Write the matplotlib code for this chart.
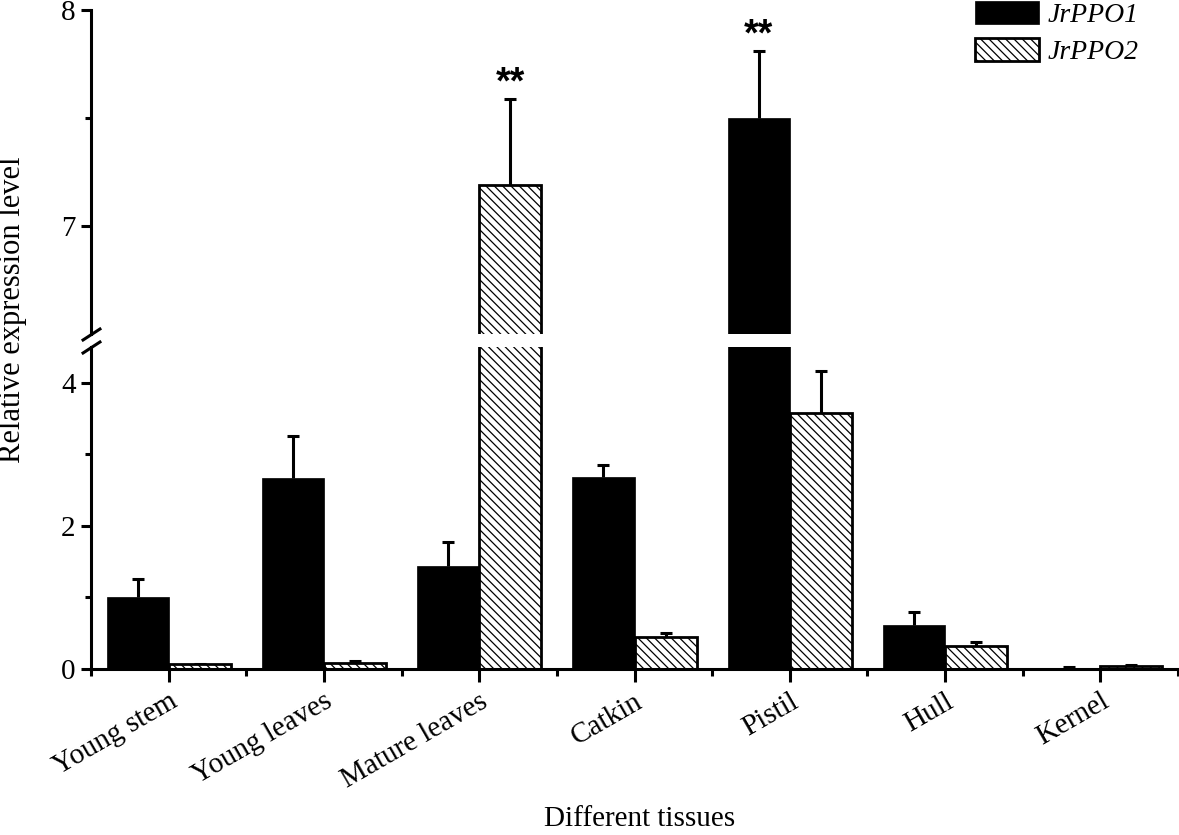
import matplotlib
matplotlib.use("Agg")
import matplotlib.pyplot as plt
import numpy as np

# tissues and the two genes
tissues = ["Young stem", "Young leaves", "Mature leaves", "Catkin", "Pistil", "Hull", "Kernel"]
ppo1 = [1.01, 2.67, 1.44, 2.68, 7.50, 0.62, 0.02]
ppo1_err = [0.25, 0.59, 0.33, 0.17, 0.31, 0.18, 0.01]
ppo2 = [0.065, 0.09, 7.19, 0.45, 3.58, 0.32, 0.04]
ppo2_err = [0.01, 0.015, 0.40, 0.05, 0.58, 0.06, 0.01]
sig1 = ["", "", "", "", "**", "", ""]
sig2 = ["", "", "**", "", "", "", ""]

plt.rcParams['font.family'] = ['Liberation Serif', 'DejaVu Serif']
plt.rcParams['hatch.linewidth'] = 0.9
plt.rcParams['hatch.color'] = '#3a3a3a'

W, H = 1179, 835
fig = plt.figure(figsize=(W / 100, H / 100), dpi=100)
left, right = 91 / W, 1178 / W
ax_hi = fig.add_axes([left, 1 - 334 / H, right - left, (334 - 10) / H])
ax_lo = fig.add_axes([left, 1 - 669 / H, right - left, (669 - 347) / H])

x = np.arange(len(tissues))
bw = 0.4
lw = 2.2

for ax in (ax_hi, ax_lo):
    ax.bar(x - bw / 2, ppo1, bw, color='black', edgecolor='black', linewidth=0.5, label='JrPPO1', zorder=2)
    ax.bar(x + bw / 2, ppo2, bw, color='white', edgecolor='black', linewidth=2.0, hatch='\\\\\\\\',
           label='JrPPO2', zorder=2)
    for xs, vals, errs in ((x - bw / 2, ppo1, ppo1_err), (x + bw / 2, ppo2, ppo2_err)):
        eb = ax.errorbar(xs, vals, yerr=[np.zeros(len(x)), errs], fmt='none', ecolor='black',
                         elinewidth=lw, capsize=4.5, capthick=lw, zorder=1)
        eb[1][0].set_visible(False)  # no cap at the bar top
    ax.set_xlim(-0.5, 6.5)
    for s in ('top', 'right'):
        ax.spines[s].set_visible(False)
    for s in ('left', 'bottom'):
        ax.spines[s].set_linewidth(lw)
    ax.tick_params(axis='y', which='major', direction='out', length=7, width=lw, labelsize=21, pad=4)
    ax.tick_params(axis='y', which='minor', direction='out', length=4, width=lw)

# significance marks
for i in range(len(x)):
    if sig1[i]:
        ax_hi.text(x[i] - bw / 2, ppo1[i] + ppo1_err[i] - 0.012, sig1[i], ha='center', va='bottom',
                   fontsize=27, fontweight='bold', family='Liberation Sans')
    if sig2[i]:
        ax_hi.text(x[i] + bw / 2, ppo2[i] + ppo2_err[i] - 0.012, sig2[i], ha='center', va='bottom',
                   fontsize=27, fontweight='bold', family='Liberation Sans')

ax_hi.set_ylim(6.5, 8.0)
ax_hi.set_yticks([7, 8])
ax_hi.set_yticks([7.5], minor=True)
ax_hi.spines['bottom'].set_visible(False)
ax_hi.tick_params(axis='x', which='both', bottom=False, labelbottom=False)

ax_lo.set_ylim(0, 4.5)
ax_lo.set_yticks([0, 2, 4])
ax_lo.set_yticks([1, 3], minor=True)
ax_lo.set_xticks(x)
ax_lo.set_xticks(list(x[:-1] + 0.5) + [-0.5, 6.5], minor=True)
ax_lo.set_xticklabels(tissues, rotation=30, ha='right', va='top', rotation_mode='anchor', fontsize=21)
ax_lo.tick_params(axis='x', which='major', direction='out', length=9, width=lw, pad=5)
ax_lo.tick_params(axis='x', which='minor', direction='out', length=5, width=lw)

# break marks on the left spine
d = 0.65
kw = dict(marker=[(-1, -d), (1, d)], markersize=14, linestyle='none', color='black',
          mec='black', mew=lw, clip_on=False)
ax_hi.plot([0], [0], transform=ax_hi.transAxes, **kw)
ax_lo.plot([0], [1], transform=ax_lo.transAxes, **kw)

fig.text(13 / W, 1 - 310 / H, "Relative expression level", rotation=90, ha='center', va='center', fontsize=22)
fig.text(640 / W, 1 - 826 / H, "Different tissues", ha='center', va='baseline', fontsize=21)

h, l = ax_lo.get_legend_handles_labels()
fig.legend(h, l, loc='upper left', bbox_to_anchor=(975 / W, 1 - 1 / H), frameon=False,
           borderpad=0, borderaxespad=0, handlelength=2.3, handleheight=0.9, handletextpad=0.3,
           labelspacing=0.35, prop={'style': 'italic', 'size': 20})

fig.savefig("out.png", dpi=100)
